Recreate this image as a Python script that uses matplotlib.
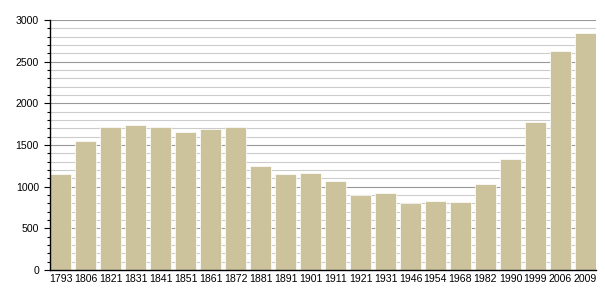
import numpy as np
import matplotlib
matplotlib.use("Agg")
import matplotlib.pyplot as plt
from matplotlib.ticker import MultipleLocator

years = ["1793", "1806", "1821", "1831", "1841", "1851", "1861", "1872", "1881", "1891", "1901",
         "1911", "1921", "1931", "1946", "1954", "1968", "1982", "1990", "1999", "2006", "2009"]
population = [1150, 1550, 1716, 1740, 1716, 1656, 1692, 1716, 1248, 1152, 1164,
              1068, 900, 924, 804, 828, 816, 1032, 1332, 1776, 2628, 2844]

plt.rcParams['font.family'] = ['Liberation Sans', 'DejaVu Sans']

fig = plt.figure(figsize=(6.05, 3.0), dpi=100)
ax = fig.add_axes([50 / 605, 30 / 300, 546 / 605, 250 / 300])

x = np.arange(len(years))
ax.bar(x, population, width=0.85, color="#CCC29C", edgecolor="white", linewidth=0.5, zorder=3)

ax.set_xlim(-0.425, len(years) - 1 + 0.425)
ax.set_ylim(0, 3000)
ax.yaxis.set_major_locator(MultipleLocator(500))
ax.yaxis.set_minor_locator(MultipleLocator(100))
ax.grid(which="major", axis="y", color="#999999", linewidth=0.8, zorder=0)
ax.grid(which="minor", axis="y", color="#cccccc", linewidth=0.8, zorder=0)

ax.set_xticks(x)
ax.set_xticklabels(years)
ax.tick_params(axis="x", length=0, pad=3, labelsize=7.6)
ax.tick_params(axis="y", which="major", length=4, width=0.8, pad=4, labelsize=7.6)
ax.tick_params(axis="y", which="minor", length=2, width=0.8)

for s in ["top", "right"]:
    ax.spines[s].set_visible(False)
ax.spines["left"].set_linewidth(1)
ax.spines["bottom"].set_linewidth(1)
ax.spines["left"].set_zorder(4)
ax.spines["bottom"].set_zorder(4)

fig.savefig("out.png", dpi=100)
